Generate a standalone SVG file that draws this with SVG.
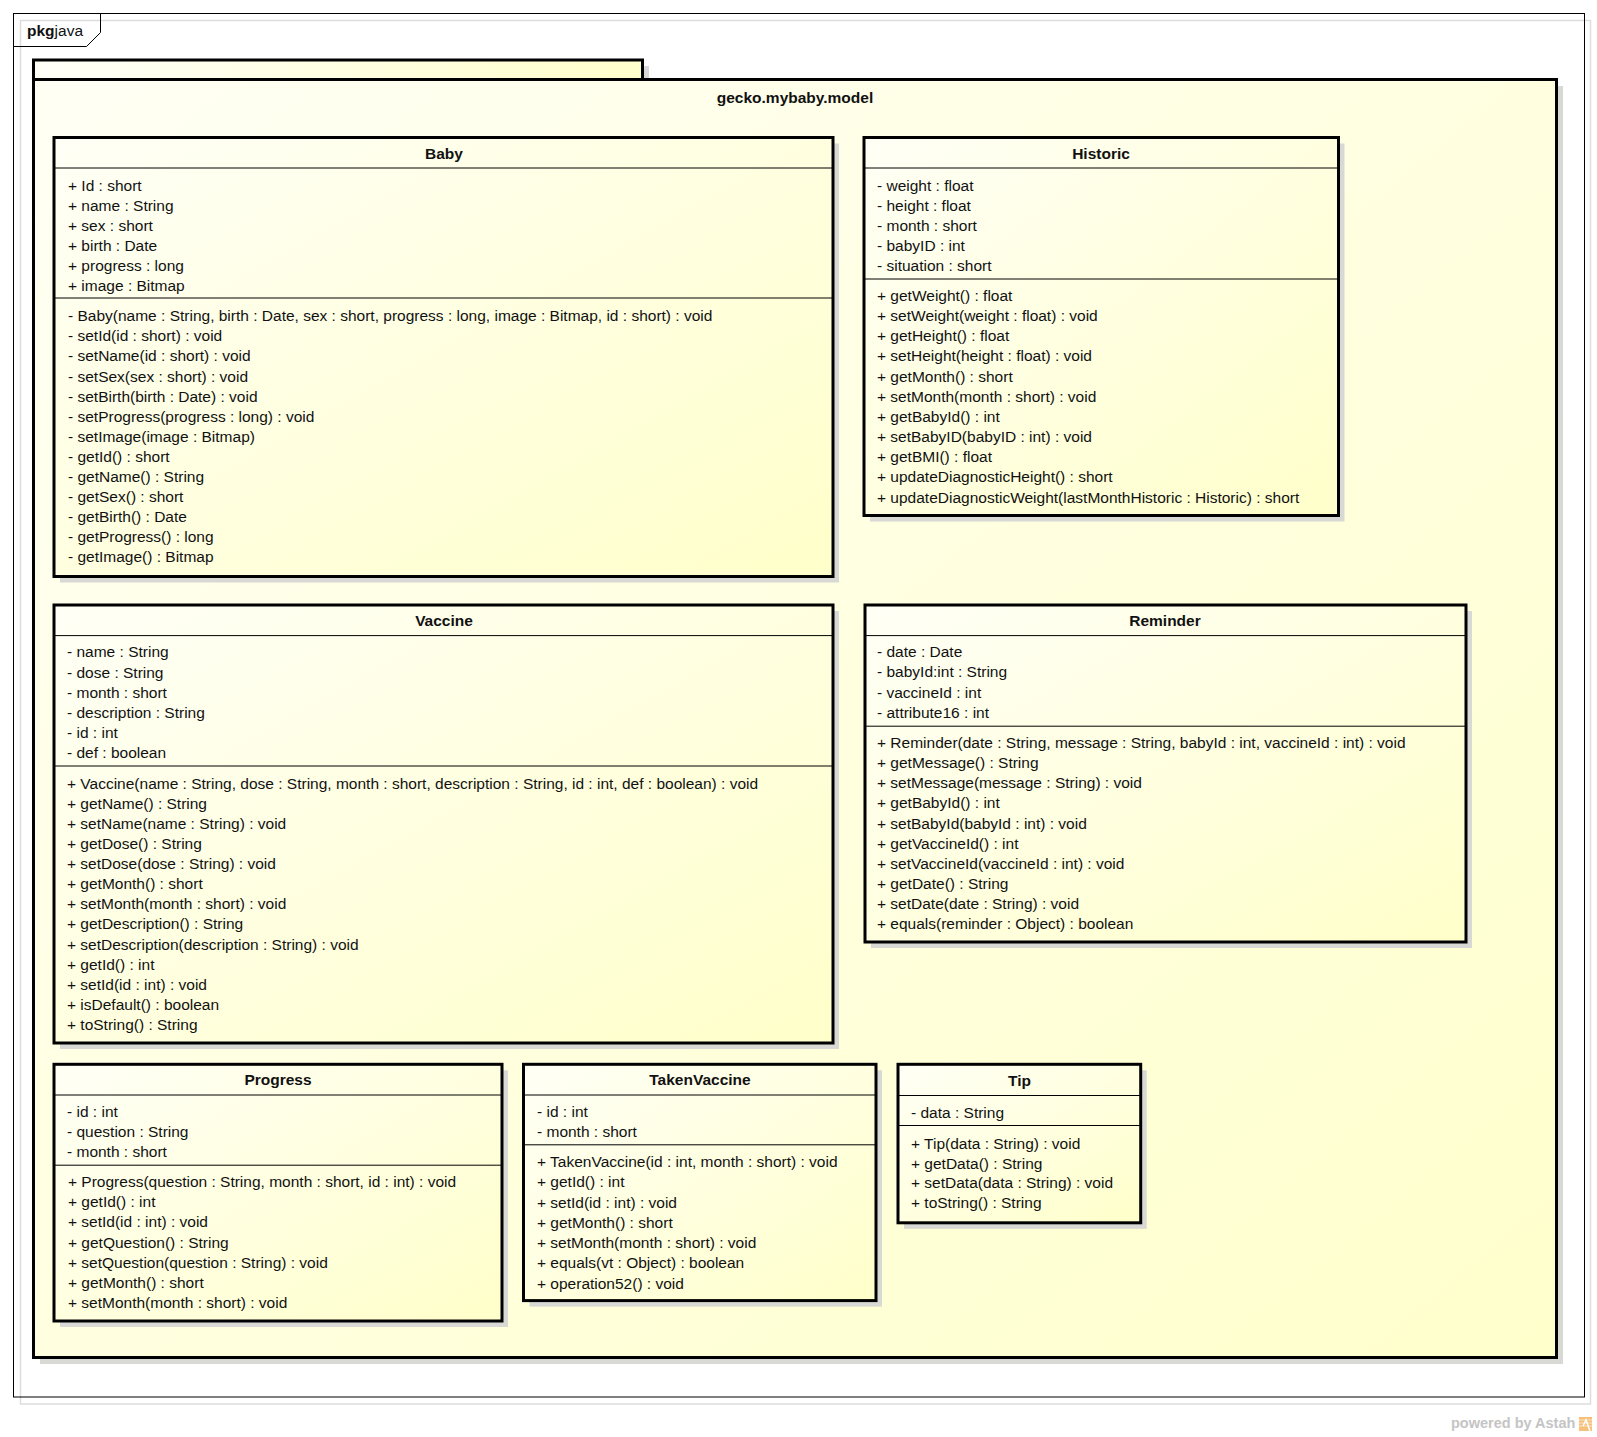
<svg xmlns="http://www.w3.org/2000/svg" width="1597" height="1437" viewBox="0 0 1597 1437">
  <defs>
    <linearGradient id="fillY" x1="0" y1="0" x2="1" y2="1">
      <stop offset="0" stop-color="#FFFFF6"/>
      <stop offset="1" stop-color="#FFFFCA"/>
    </linearGradient>
    <linearGradient id="fillPkg" x1="0" y1="0" x2="1" y2="1">
      <stop offset="0" stop-color="#FFFFF4"/>
      <stop offset="1" stop-color="#FFFFCC"/>
    </linearGradient>
    <linearGradient id="fillTab" x1="0" y1="0" x2="1" y2="0">
      <stop offset="0" stop-color="#FFFFF8"/>
      <stop offset="1" stop-color="#FFFFCC"/>
    </linearGradient>
    <style>
      .frame { fill: none; stroke: #000; stroke-width: 1; }
      .frameShadow { fill: none; stroke: #DDDDDD; stroke-width: 1.5; }
      .pkg { fill: url(#fillPkg); stroke: #000; stroke-width: 3; }
      .tab { fill: url(#fillTab); stroke: #000; stroke-width: 3; }
      .shadow { fill: #D8D8D4; }
      .box { fill: url(#fillY); stroke: #000; stroke-width: 3; }
      .sep { stroke: #000; stroke-width: 1; fill: none; }
      .txt { font-family: "Liberation Sans", Arial, sans-serif; font-size: 15.5px; fill: #111; }
      .title { font-family: "Liberation Sans", Arial, sans-serif; font-size: 15.5px; font-weight: bold; text-anchor: middle; fill: #111; }
      .brand { font-family: "Liberation Sans", Arial, sans-serif; font-size: 14.5px; font-weight: bold; fill: #C4C4C4; }
    </style>
  </defs>

  <rect width="1597" height="1437" fill="#FFFFFF"/>

  <!-- diagram frame -->
  <g id="frame">
    <rect class="frameShadow" x="20.5" y="20.5" width="1570" height="1383.5"/>
    <rect class="frame" x="13.5" y="13.5" width="1571" height="1383.5"/>
    <path class="frame" d="M13.5 46.5 H86.5 L100.5 32.5 V13.5" fill="#FFFFFF"/>
    <text x="27" y="36" class="txt" font-size="15"><tspan font-weight="bold">pkg</tspan>java</text>
  </g>

  <!-- package gecko.mybaby.model -->
  <g id="pkg-gecko-mybaby-model">
    <rect class="shadow" x="40" y="66" width="609" height="20"/>
    <rect class="shadow" x="40" y="86" width="1523" height="1278"/>
    <rect class="tab" x="33.5" y="60" width="609" height="19.5"/>
    <rect class="pkg" x="33.5" y="79.5" width="1523" height="1278"/>
    <text x="795" y="103" class="title">gecko.mybaby.model</text>
  </g>

  <!-- Baby -->
  <g id="class-Baby">
    <rect class="shadow" x="60" y="143.5" width="779" height="439"/>
    <rect class="box" x="54" y="137.5" width="779" height="439"/>
    <line class="sep" x1="54" y1="168" x2="833" y2="168"/>
    <line class="sep" x1="54" y1="298" x2="833" y2="298"/>
    <text x="444" y="159.3" class="title">Baby</text>
    <text class="txt">
      <tspan x="68" y="190.9">+ Id : short</tspan>
      <tspan x="68" dy="20">+ name : String</tspan>
      <tspan x="68" dy="20">+ sex : short</tspan>
      <tspan x="68" dy="20">+ birth : Date</tspan>
      <tspan x="68" dy="20">+ progress : long</tspan>
      <tspan x="68" dy="20">+ image : Bitmap</tspan>
    </text>
    <text class="txt">
      <tspan x="68" y="321.2">- Baby(name : String, birth : Date, sex : short, progress : long, image : Bitmap, id : short) : void</tspan>
      <tspan x="68" dy="20.1">- setId(id : short) : void</tspan>
      <tspan x="68" dy="20.1">- setName(id : short) : void</tspan>
      <tspan x="68" dy="20.1">- setSex(sex : short) : void</tspan>
      <tspan x="68" dy="20.1">- setBirth(birth : Date) : void</tspan>
      <tspan x="68" dy="20.1">- setProgress(progress : long) : void</tspan>
      <tspan x="68" dy="20.1">- setImage(image : Bitmap)</tspan>
      <tspan x="68" dy="20.1">- getId() : short</tspan>
      <tspan x="68" dy="20.1">- getName() : String</tspan>
      <tspan x="68" dy="20.1">- getSex() : short</tspan>
      <tspan x="68" dy="20.1">- getBirth() : Date</tspan>
      <tspan x="68" dy="20.1">- getProgress() : long</tspan>
      <tspan x="68" dy="20.1">- getImage() : Bitmap</tspan>
    </text>
  </g>

  <!-- Historic -->
  <g id="class-Historic">
    <rect class="shadow" x="870" y="143.5" width="474.5" height="378"/>
    <rect class="box" x="864" y="137.5" width="474.5" height="378"/>
    <line class="sep" x1="864" y1="168" x2="1338.5" y2="168"/>
    <line class="sep" x1="864" y1="279" x2="1338.5" y2="279"/>
    <text x="1101" y="159.3" class="title">Historic</text>
    <text class="txt">
      <tspan x="877" y="190.9">- weight : float</tspan>
      <tspan x="877" dy="19.9">- height : float</tspan>
      <tspan x="877" dy="19.9">- month : short</tspan>
      <tspan x="877" dy="19.9">- babyID : int</tspan>
      <tspan x="877" dy="19.9">- situation : short</tspan>
    </text>
    <text class="txt">
      <tspan x="877" y="300.9">+ getWeight() : float</tspan>
      <tspan x="877" dy="20.16">+ setWeight(weight : float) : void</tspan>
      <tspan x="877" dy="20.16">+ getHeight() : float</tspan>
      <tspan x="877" dy="20.16">+ setHeight(height : float) : void</tspan>
      <tspan x="877" dy="20.16">+ getMonth() : short</tspan>
      <tspan x="877" dy="20.16">+ setMonth(month : short) : void</tspan>
      <tspan x="877" dy="20.16">+ getBabyId() : int</tspan>
      <tspan x="877" dy="20.16">+ setBabyID(babyID : int) : void</tspan>
      <tspan x="877" dy="20.16">+ getBMI() : float</tspan>
      <tspan x="877" dy="20.16">+ updateDiagnosticHeight() : short</tspan>
      <tspan x="877" dy="20.16">+ updateDiagnosticWeight(lastMonthHistoric : Historic) : short</tspan>
    </text>
  </g>

  <!-- Vaccine -->
  <g id="class-Vaccine">
    <rect class="shadow" x="60" y="611" width="779" height="438"/>
    <rect class="box" x="54" y="605" width="779" height="438"/>
    <line class="sep" x1="54" y1="635.6" x2="833" y2="635.6"/>
    <line class="sep" x1="54" y1="766" x2="833" y2="766"/>
    <text x="444" y="625.8" class="title">Vaccine</text>
    <text class="txt">
      <tspan x="67" y="657.3">- name : String</tspan>
      <tspan x="67" dy="20.2">- dose : String</tspan>
      <tspan x="67" dy="20.2">- month : short</tspan>
      <tspan x="67" dy="20.2">- description : String</tspan>
      <tspan x="67" dy="20.2">- id : int</tspan>
      <tspan x="67" dy="20.2">- def : boolean</tspan>
    </text>
    <text class="txt">
      <tspan x="67" y="788.7">+ Vaccine(name : String, dose : String, month : short, description : String, id : int, def : boolean) : void</tspan>
      <tspan x="67" dy="20.1">+ getName() : String</tspan>
      <tspan x="67" dy="20.1">+ setName(name : String) : void</tspan>
      <tspan x="67" dy="20.1">+ getDose() : String</tspan>
      <tspan x="67" dy="20.1">+ setDose(dose : String) : void</tspan>
      <tspan x="67" dy="20.1">+ getMonth() : short</tspan>
      <tspan x="67" dy="20.1">+ setMonth(month : short) : void</tspan>
      <tspan x="67" dy="20.1">+ getDescription() : String</tspan>
      <tspan x="67" dy="20.1">+ setDescription(description : String) : void</tspan>
      <tspan x="67" dy="20.1">+ getId() : int</tspan>
      <tspan x="67" dy="20.1">+ setId(id : int) : void</tspan>
      <tspan x="67" dy="20.1">+ isDefault() : boolean</tspan>
      <tspan x="67" dy="20.1">+ toString() : String</tspan>
    </text>
  </g>

  <!-- Reminder -->
  <g id="class-Reminder">
    <rect class="shadow" x="871" y="611" width="601" height="337"/>
    <rect class="box" x="865" y="605" width="601" height="337"/>
    <line class="sep" x1="865" y1="635.6" x2="1466" y2="635.6"/>
    <line class="sep" x1="865" y1="726.2" x2="1466" y2="726.2"/>
    <text x="1165" y="625.8" class="title">Reminder</text>
    <text class="txt">
      <tspan x="877" y="657.3">- date : Date</tspan>
      <tspan x="877" dy="20.1">- babyId:int : String</tspan>
      <tspan x="877" dy="20.1">- vaccineId : int</tspan>
      <tspan x="877" dy="20.1">- attribute16 : int</tspan>
    </text>
    <text class="txt">
      <tspan x="877" y="748">+ Reminder(date : String, message : String, babyId : int, vaccineId : int) : void</tspan>
      <tspan x="877" dy="20.14">+ getMessage() : String</tspan>
      <tspan x="877" dy="20.14">+ setMessage(message : String) : void</tspan>
      <tspan x="877" dy="20.14">+ getBabyId() : int</tspan>
      <tspan x="877" dy="20.14">+ setBabyId(babyId : int) : void</tspan>
      <tspan x="877" dy="20.14">+ getVaccineId() : int</tspan>
      <tspan x="877" dy="20.14">+ setVaccineId(vaccineId : int) : void</tspan>
      <tspan x="877" dy="20.14">+ getDate() : String</tspan>
      <tspan x="877" dy="20.14">+ setDate(date : String) : void</tspan>
      <tspan x="877" dy="20.14">+ equals(reminder : Object) : boolean</tspan>
    </text>
  </g>

  <!-- Progress -->
  <g id="class-Progress">
    <rect class="shadow" x="60" y="1070.3" width="448" height="256.7"/>
    <rect class="box" x="54" y="1064.3" width="448" height="256.7"/>
    <line class="sep" x1="54" y1="1095" x2="502" y2="1095"/>
    <line class="sep" x1="54" y1="1165.2" x2="502" y2="1165.2"/>
    <text x="278" y="1085.1" class="title">Progress</text>
    <text class="txt">
      <tspan x="67" y="1116.7">- id : int</tspan>
      <tspan x="67" dy="20">- question : String</tspan>
      <tspan x="67" dy="20">- month : short</tspan>
    </text>
    <text class="txt">
      <tspan x="68" y="1187">+ Progress(question : String, month : short, id : int) : void</tspan>
      <tspan x="68" dy="20.2">+ getId() : int</tspan>
      <tspan x="68" dy="20.2">+ setId(id : int) : void</tspan>
      <tspan x="68" dy="20.2">+ getQuestion() : String</tspan>
      <tspan x="68" dy="20.2">+ setQuestion(question : String) : void</tspan>
      <tspan x="68" dy="20.2">+ getMonth() : short</tspan>
      <tspan x="68" dy="20.2">+ setMonth(month : short) : void</tspan>
    </text>
  </g>

  <!-- TakenVaccine -->
  <g id="class-TakenVaccine">
    <rect class="shadow" x="529.5" y="1070.3" width="352.5" height="236.3"/>
    <rect class="box" x="523.5" y="1064.3" width="352.5" height="236.3"/>
    <line class="sep" x1="523.5" y1="1095" x2="876" y2="1095"/>
    <line class="sep" x1="523.5" y1="1144.8" x2="876" y2="1144.8"/>
    <text x="700" y="1085.1" class="title">TakenVaccine</text>
    <text class="txt">
      <tspan x="537" y="1116.7">- id : int</tspan>
      <tspan x="537" dy="20">- month : short</tspan>
    </text>
    <text class="txt">
      <tspan x="537" y="1166.9">+ TakenVaccine(id : int, month : short) : void</tspan>
      <tspan x="537" dy="20.3">+ getId() : int</tspan>
      <tspan x="537" dy="20.3">+ setId(id : int) : void</tspan>
      <tspan x="537" dy="20.3">+ getMonth() : short</tspan>
      <tspan x="537" dy="20.3">+ setMonth(month : short) : void</tspan>
      <tspan x="537" dy="20.3">+ equals(vt : Object) : boolean</tspan>
      <tspan x="537" dy="20.3">+ operation52() : void</tspan>
    </text>
  </g>

  <!-- Tip -->
  <g id="class-Tip">
    <rect class="shadow" x="904" y="1070.3" width="242.7" height="158.5"/>
    <rect class="box" x="898" y="1064.3" width="242.7" height="158.5"/>
    <line class="sep" x1="898" y1="1095.5" x2="1140.7" y2="1095.5"/>
    <line class="sep" x1="898" y1="1125.5" x2="1140.7" y2="1125.5"/>
    <text x="1019.5" y="1086" class="title">Tip</text>
    <text class="txt">
      <tspan x="911" y="1118">- data : String</tspan>
    </text>
    <text class="txt">
      <tspan x="911" y="1149">+ Tip(data : String) : void</tspan>
      <tspan x="911" dy="19.7">+ getData() : String</tspan>
      <tspan x="911" dy="19.7">+ setData(data : String) : void</tspan>
      <tspan x="911" dy="19.7">+ toString() : String</tspan>
    </text>
  </g>

  <!-- no relationships are drawn between the classes -->
  <g id="connectors"></g>

  <!-- footer mark -->
  <g id="footer">
    <text x="1451" y="1428" class="brand">powered by Astah</text>
    <rect x="1579" y="1417" width="13" height="14" fill="#F6C07A"/>
    <path d="M1579 1420 H1592 M1579 1423 H1592 M1579 1426 H1592" stroke="#FBE3C0" stroke-width="1"/>
    <path d="M1583 1426 L1586 1420 L1590 1431" stroke="#FFFFFF" stroke-width="1.5" fill="none"/>
  </g>
</svg>
